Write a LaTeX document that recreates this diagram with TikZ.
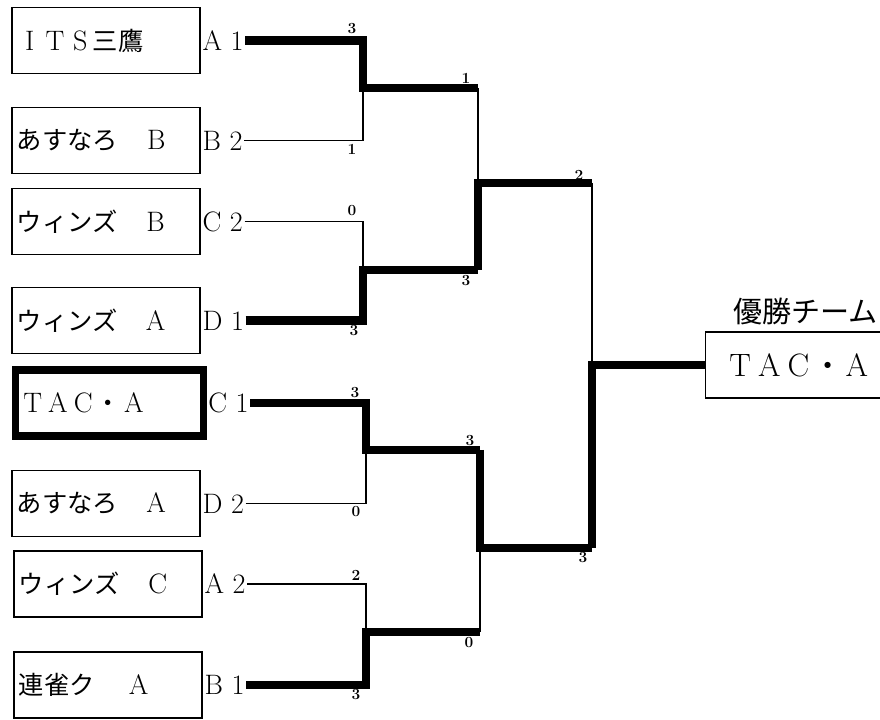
\documentclass[tikz,border=0pt]{standalone}
\usepackage{fontspec}
\newfontfamily\jp[Scale=0.9]{Noto Sans CJK JP}
\usetikzlibrary{positioning}
\newcommand{\zw}[1]{\makebox[0.9em]{#1}}
\tikzset{
  team/.style={draw, line width=1.4pt, anchor=west, minimum height=1.65cm,
               text width=4.45cm, inner xsep=0.125cm, align=left,
               font=\fontsize{20}{24}\selectfont},
  seed/.style={inner xsep=1pt, inner ysep=0pt, font=\fontsize{20}{24}\selectfont},
  win/.style={line width=6pt, line join=miter},
  lose/.style={line width=0.8pt},
  score/.style={font=\fontsize{11}{12}\selectfont\bfseries, inner sep=0pt},
  champ/.style={draw, line width=1pt, anchor=west, minimum height=1.65cm,
                text width=4cm, inner xsep=0.5cm, align=left,
                font=\fontsize{23}{26}\selectfont},
}

\begin{document}
\begin{tikzpicture}[x=0.025cm, y=0.025cm]
\clip (0,0) rectangle (880,-720);

% teams
\node[team] (t1) at (11,-40.5) {\zw{I}\zw{T}\zw{S}{\jp 三鷹}};
\node[team] (t2) at (11,-140.5) {{\jp あすなろ}\hspace{18pt}\zw{B}};
\node[team] (t3) at (11,-221.5) {{\jp ウィンズ}\hspace{18pt}\zw{B}};
\node[team] (t4) at (11,-320.5) {{\jp ウィンズ}\hspace{18pt}\zw{A}};
\node[team, line width=5pt] (t5) at (11.5,-403) {\zw{T}\zw{A}\zw{C}{\jp ・}\zw{A}};
\node[team] (t6) at (11,-503.5) {{\jp あすなろ}\hspace{18pt}\zw{A}};
\node[team] (t7) at (13,-584) {{\jp ウィンズ}\hspace{18pt}\zw{C}};
\node[team] (t8) at (13,-685) {{\jp 連雀ク}\hspace{22pt}\zw{A}};

\node[seed, right=0pt of t1] (l1) {A 1};
\node[seed, right=0pt of t2] (l2) {B 2};
\node[seed, right=0pt of t3] (l3) {C 2};
\node[seed, right=0pt of t4] (l4) {D 1};
\node[seed, right=0pt of t5] (l5) {C 1};
\node[seed, right=0pt of t6] (l6) {D 2};
\node[seed, right=0pt of t7] (l7) {A 2};
\node[seed, right=0pt of t8] (l8) {B 1};

% bracket joints
\coordinate (q1) at (363,-88);
\coordinate (q2) at (363,-270);
\coordinate (q3) at (366,-450);
\coordinate (q4) at (366,-632);
\coordinate (s1) at (478,-183);
\coordinate (s2) at (480,-548);
\coordinate (f) at (592,-365);

% winner
\node[champ] (champ) at (705,-365) {\zw{T}\zw{A}\zw{C}{\jp ・}\zw{A}};
\node[above=1pt of champ, font=\fontsize{23}{26}\selectfont\jp] (title) {優勝チーム};

% first round
\draw[win] (l1.east) -| (q1) -- (q1 -| s1);
\draw[lose] (l2.east) -| (q1);
\draw[lose] (l3.east) -| (q2);
\draw[win] (l4.east) -| (q2) -- (q2 -| s1);
\draw[win] (l5.east) -| (q3) -- (q3 -| s2);
\draw[lose] (l6.east) -| (q3);
\draw[lose] (l7.east) -| (q4);
\draw[win] (l8.east) -| (q4) -- (q4 -| s2);

% semi finals
\draw[lose] (q1 -| s1) -- (s1);
\draw[win] (q2 -| s1) -- (s1) -- (s1 -| f);
\draw[win] (q3 -| s2) -- (s2) -- (s2 -| f);
\draw[lose] (q4 -| s2) -- (s2);

% final
\draw[lose] (s1 -| f) -- (f);
\draw[win] (s2 -| f) -- (f) -- (champ.west);

% scores
\node[score] (m1a) at (352,-29) {3};
\node[score] (m1b) at (352,-149) {1};
\node[score] (m2a) at (352,-211) {0};
\node[score] (m2b) at (354,-331) {3};
\node[score] (m3a) at (355,-393) {3};
\node[score] (m3b) at (356,-512) {0};
\node[score] (m4a) at (356,-575) {2};
\node[score] (m4b) at (356,-695) {3};
\node[score] (m5a) at (466,-78) {1};
\node[score] (m5b) at (466,-281) {3};
\node[score] (m6a) at (470,-441) {3};
\node[score] (m6b) at (469,-643) {0};
\node[score] (m7a) at (579,-175) {2};
\node[score] (m7b) at (583,-558) {3};

\end{tikzpicture}
\end{document}
